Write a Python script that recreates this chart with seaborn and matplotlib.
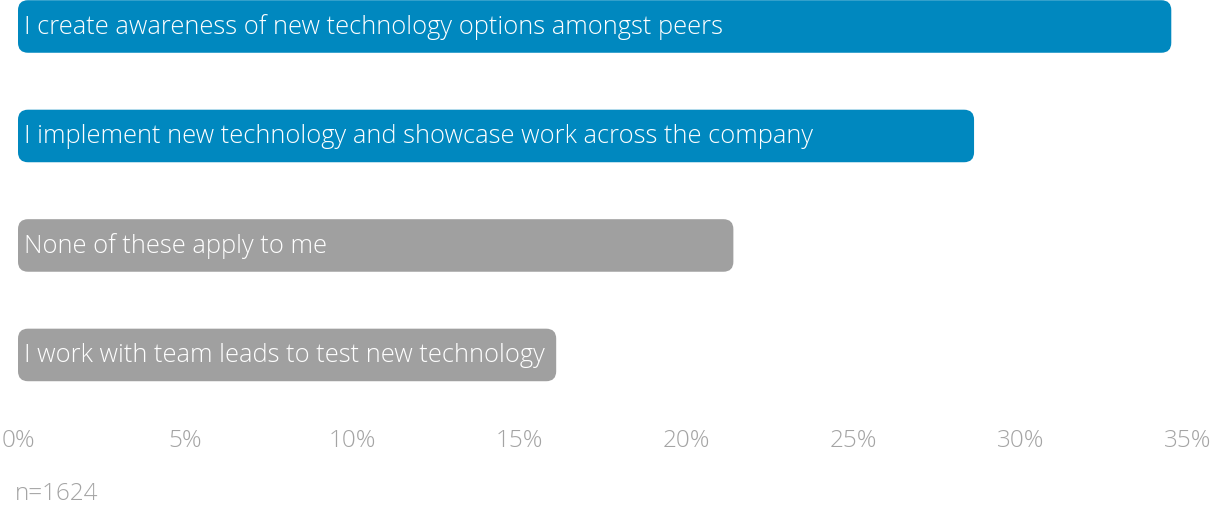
import matplotlib
matplotlib.use("Agg")
import matplotlib.pyplot as plt
from matplotlib.patches import FancyBboxPatch
from matplotlib.ticker import FuncFormatter
import seaborn as sns
import pandas as pd

statements = [
    "I create awareness of new technology options amongst peers",
    "I implement new technology and showcase work across the company",
    "None of these apply to me",
    "I work with team leads to test new technology",
]
shares = [34.5, 28.6, 21.4, 16.1]
bar_colors = ["#0088bf", "#0088bf", "#a0a0a0", "#a0a0a0"]
tick_values = [0, 5, 10, 15, 20, 25, 30, 35]
sample_note = "n=1624"

df = pd.DataFrame({"statement": statements, "share": shares})

sns.set_theme(style="white")
plt.rcParams["font.family"] = ["Open Sans", "DejaVu Sans"]

fig = plt.figure(figsize=(12.17, 5.06), dpi=100)
ax = fig.add_axes([18 / 1217, 116 / 506, 1170 / 1217, 390 / 506])

sns.barplot(data=df, x="share", y="statement", hue="statement",
            palette=bar_colors, saturation=1, orient="h", width=0.48,
            legend=False, ax=ax)

ax.set_xlim(0, 35)
ax.set_ylim(3.311, -0.251)

# swap the square bars for rounded ones
fig.canvas.draw()
x_per_px = 35 / 1170
y_per_px = (3.311 + 0.251) / 390
radius_px = 10
for patch in list(ax.patches):
    x0, y0 = patch.get_x(), patch.get_y()
    w, h = patch.get_width(), patch.get_height()
    color = patch.get_facecolor()
    patch.remove()
    rounded = FancyBboxPatch((x0, y0), w, h,
                             boxstyle=f"round,pad=0,rounding_size={radius_px * x_per_px}",
                             mutation_aspect=y_per_px / x_per_px,
                             facecolor=color, edgecolor="none", zorder=2)
    ax.add_patch(rounded)

for i, label in enumerate(statements):
    ax.text(0.18, i, label, color="white", va="center", ha="left",
            fontsize=18.4, fontweight="light", zorder=3)

ax.set_xticks(tick_values)
ax.xaxis.set_major_formatter(FuncFormatter(lambda v, _: f"{v:.0f}%"))
ax.tick_params(axis="x", length=0, pad=28, labelsize=17.5, labelcolor="#a4a4a4")
for t in ax.get_xticklabels():
    t.set_fontweight("light")
ax.set_yticks([])
ax.set_xlabel("")
ax.set_ylabel("")
for s in ax.spines.values():
    s.set_visible(False)
ax.grid(False)

fig.text(15 / 1217, 1 - 494 / 506, sample_note, color="#a4a4a4",
         fontsize=17.5, fontweight="light", va="center", ha="left")

fig.savefig("out.png", dpi=100, facecolor="white")
